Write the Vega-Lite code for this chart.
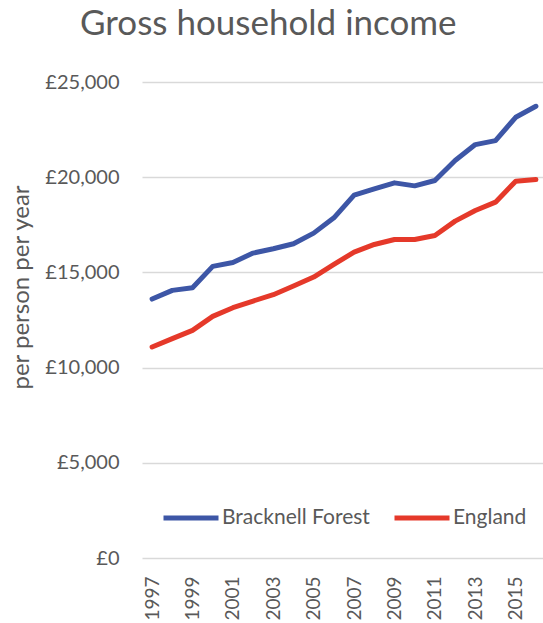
{
  "$schema": "https://vega.github.io/schema/vega-lite/v6.json",
  "width": 404,
  "height": 476,
  "autosize": {"type": "none"},
  "padding": {"left": 142, "top": 82, "right": 0, "bottom": 65},
  "background": "white",
  "title": {
    "text": "Gross household income",
    "anchor": "start",
    "dx": 71,
    "offset": 30,
    "fontSize": 35,
    "font": "Lato",
    "fontWeight": "normal",
    "color": "#595959"
  },
  "data": {
    "values": [
      {"year": 1997, "area": "Bracknell Forest", "income": 13600},
      {"year": 1998, "area": "Bracknell Forest", "income": 14056},
      {"year": 1999, "area": "Bracknell Forest", "income": 14196},
      {"year": 2000, "area": "Bracknell Forest", "income": 15315},
      {"year": 2001, "area": "Bracknell Forest", "income": 15524},
      {"year": 2002, "area": "Bracknell Forest", "income": 16014},
      {"year": 2003, "area": "Bracknell Forest", "income": 16241},
      {"year": 2004, "area": "Bracknell Forest", "income": 16503},
      {"year": 2005, "area": "Bracknell Forest", "income": 17063},
      {"year": 2006, "area": "Bracknell Forest", "income": 17867},
      {"year": 2007, "area": "Bracknell Forest", "income": 19056},
      {"year": 2008, "area": "Bracknell Forest", "income": 19388},
      {"year": 2009, "area": "Bracknell Forest", "income": 19703},
      {"year": 2010, "area": "Bracknell Forest", "income": 19545},
      {"year": 2011, "area": "Bracknell Forest", "income": 19825},
      {"year": 2012, "area": "Bracknell Forest", "income": 20874},
      {"year": 2013, "area": "Bracknell Forest", "income": 21713},
      {"year": 2014, "area": "Bracknell Forest", "income": 21923},
      {"year": 2015, "area": "Bracknell Forest", "income": 23147},
      {"year": 2016, "area": "Bracknell Forest", "income": 23724},
      {"year": 1997, "area": "England", "income": 11084},
      {"year": 1998, "area": "England", "income": 11521},
      {"year": 1999, "area": "England", "income": 11958},
      {"year": 2000, "area": "England", "income": 12692},
      {"year": 2001, "area": "England", "income": 13146},
      {"year": 2002, "area": "England", "income": 13496},
      {"year": 2003, "area": "England", "income": 13828},
      {"year": 2004, "area": "England", "income": 14283},
      {"year": 2005, "area": "England", "income": 14755},
      {"year": 2006, "area": "England", "income": 15420},
      {"year": 2007, "area": "England", "income": 16066},
      {"year": 2008, "area": "England", "income": 16468},
      {"year": 2009, "area": "England", "income": 16730},
      {"year": 2010, "area": "England", "income": 16730},
      {"year": 2011, "area": "England", "income": 16940},
      {"year": 2012, "area": "England", "income": 17692},
      {"year": 2013, "area": "England", "income": 18251},
      {"year": 2014, "area": "England", "income": 18688},
      {"year": 2015, "area": "England", "income": 19790},
      {"year": 2016, "area": "England", "income": 19877}
    ]
  },
  "mark": {"type": "line", "strokeWidth": 5, "strokeCap": "round", "strokeJoin": "round"},
  "encoding": {
    "x": {
      "field": "year",
      "type": "ordinal",
      "scale": {"type": "point", "padding": 0.5},
      "axis": {
        "title": null,
        "values": [1997, 1999, 2001, 2003, 2005, 2007, 2009, 2011, 2013, 2015],
        "labelAngle": -90,
        "labelAlign": "right",
        "labelBaseline": "middle",
        "labelPadding": 18,
        "labelFont": "Lato",
        "labelFontSize": 19,
        "labelColor": "#595959",
        "ticks": false,
        "domain": false,
        "grid": false
      }
    },
    "y": {
      "field": "income",
      "type": "quantitative",
      "scale": {"domain": [0, 25000], "nice": false},
      "axis": {
        "title": "per person per year",
        "titleFont": "Lato",
        "titleFontSize": 24,
        "titleFontWeight": "normal",
        "titleColor": "#595959",
        "titleAngle": -90,
        "titleX": -121,
        "titleY": 205,
        "titleAlign": "center",
        "titleBaseline": "middle",
        "values": [0, 5000, 10000, 15000, 20000, 25000],
        "labelExpr": "'£' + format(datum.value, ',')",
        "labelFont": "Lato",
        "labelFontSize": 20,
        "labelColor": "#595959",
        "labelPadding": 23,
        "ticks": false,
        "domain": false,
        "grid": true,
        "gridColor": "#d9d9d9",
        "gridWidth": 1.5
      }
    },
    "color": {
      "field": "area",
      "type": "nominal",
      "scale": {"domain": ["Bracknell Forest", "England"], "range": ["#3d56a6", "#e5392a"]},
      "legend": {
        "title": null,
        "orient": "none",
        "direction": "horizontal",
        "legendX": 19,
        "legendY": 406,
        "symbolType": "stroke",
        "symbolSize": 3025,
        "symbolStrokeWidth": 5,
        "labelFont": "Lato",
        "labelFontSize": 21,
        "labelColor": "#595959",
        "labelOffset": 1,
        "columnPadding": 14,
        "padding": 0
      }
    }
  },
  "config": {"view": {"stroke": null}}
}
